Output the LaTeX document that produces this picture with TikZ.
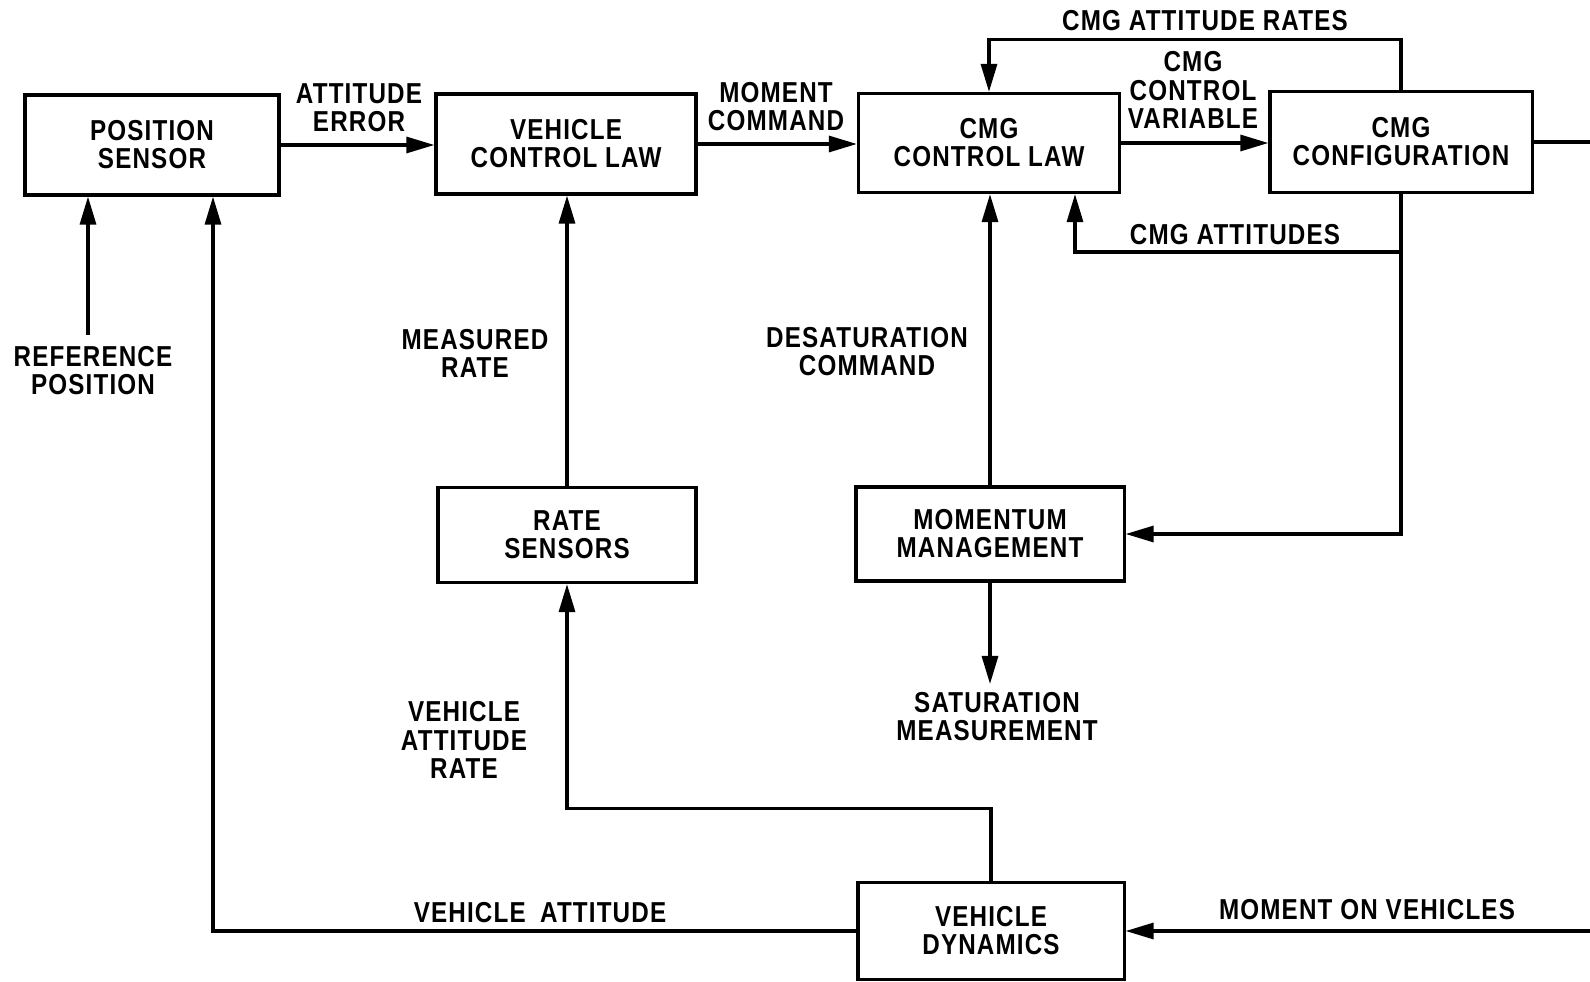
\documentclass[tikz,border=0pt]{standalone}
\usepackage{fontspec}
\setmainfont{Liberation Sans}[FakeStretch=0.84, LetterSpace=4]
\usetikzlibrary{arrows.meta}

\tikzset{
  blk/.style={draw, line width=0.9pt, align=center, inner sep=0pt,
    font=\fontsize{8.2}{8}\selectfont\bfseries},
  lbl/.style={align=center, inner sep=0pt,
    font=\fontsize{8.2}{8}\selectfont\bfseries},
  sig/.style={line width=0.9pt, -{Triangle[length=2.8mm, width=1.6mm]}},
}

\begin{document}
\begin{tikzpicture}[x=0.01cm, y=-0.01cm]
  \useasboundingbox (0,0) rectangle (1590,982);

  \node[blk, minimum width=2.54cm, minimum height=1cm] (psens) at (152,145) {POSITION\\SENSOR};
  \node[blk, minimum width=2.6cm, minimum height=1cm] (vcl) at (566,144) {VEHICLE\\CONTROL LAW};
  \node[blk, minimum width=2.61cm, minimum height=0.99cm] (cmglaw) at (989,143) {CMG\\CONTROL LAW};
  \node[blk, minimum width=2.62cm, minimum height=1.01cm] (cmgcfg) at (1401,142) {CMG\\CONFIGURATION};
  \node[blk, minimum width=2.58cm, minimum height=0.95cm] (rsens) at (567,535) {RATE\\SENSORS};
  \node[blk, minimum width=2.68cm, minimum height=0.94cm] (mmgmt) at (990,534) {MOMENTUM\\MANAGEMENT};
  \node[blk, minimum width=2.66cm, minimum height=0.97cm] (vdyn) at (991,931) {VEHICLE\\DYNAMICS};

  \coordinate (refpt) at (88,335);
  \coordinate (vattx) at (213,0);
  \coordinate (edge) at (1590,0);
  \coordinate (attx) at (1075,252);
  \coordinate (satpt) at (990,684);

  \draw[sig] (refpt) -- (refpt |- psens.south);
  \draw[sig] (vdyn.west) -| (vattx |- psens.south);
  \draw[sig] (edge |- vdyn.east) -- (vdyn.east);
  \draw[line width=0.9pt] (cmgcfg.east) -- (cmgcfg.east -| edge);

  \draw[sig] (psens.east) -- (psens.east -| vcl.west);
  \draw[sig] (vcl.east) -- (vcl.east -| cmglaw.west);
  \draw[sig] (cmglaw.east) -- (cmglaw.east -| cmgcfg.west);

  \draw[sig] (cmgcfg.north) -- ++(0,-50) -| (cmglaw.north);
  \draw[sig] (cmgcfg.south) |- (attx) -- (attx |- cmglaw.south);
  \draw[sig] (cmgcfg.south |- attx) |- (mmgmt.east);
  \draw[sig] (mmgmt.north) -- (mmgmt.north |- cmglaw.south);
  \draw[sig] (mmgmt.south) -- (satpt);

  \draw[sig] (vdyn.north) -- ++(0,-72) -| (rsens.south);
  \draw[sig] (rsens.north) -- (rsens.north |- vcl.south);

  \node[lbl] (atterr) at (359,108) {ATTITUDE\\ERROR};
  \node[lbl] (momcmd) at (776,107) {MOMENT\\COMMAND};
  \node[lbl] (ctlvar) at (1193,90) {CMG\\CONTROL\\VARIABLE};
  \node[lbl] (attrates) at (1205,21) {CMG ATTITUDE RATES};
  \node[lbl] (cmgatt) at (1235,235) {CMG ATTITUDES};
  \node[lbl] (refpos) at (93,371) {REFERENCE\\POSITION};
  \node[lbl] (measrate) at (475,353) {MEASURED\\RATE};
  \node[lbl] (desat) at (867,352) {DESATURATION\\COMMAND};
  \node[lbl] (satmeas) at (997,717) {SATURATION\\MEASUREMENT};
  \node[lbl] (vattrate) at (464,740) {VEHICLE\\ATTITUDE\\RATE};
  \node[lbl] (vatt) at (540,913) {VEHICLE\enspace ATTITUDE};
  \node[lbl] (momveh) at (1367,910) {MOMENT ON VEHICLES};
\end{tikzpicture}
\end{document}
